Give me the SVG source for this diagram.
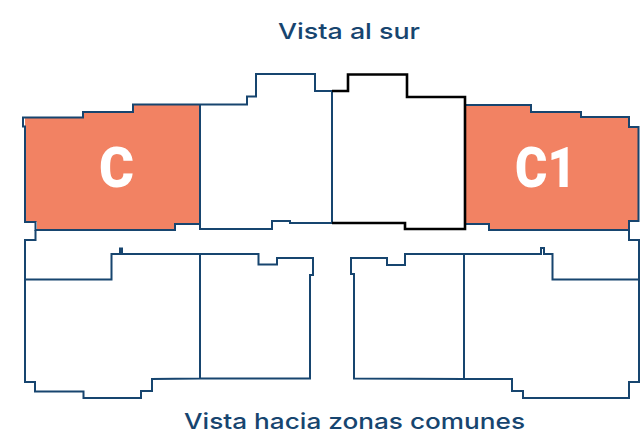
<svg xmlns="http://www.w3.org/2000/svg" width="640" height="435" viewBox="0 0 640 435">
<style>
.o{fill:none;stroke:#17456f;stroke-width:2;stroke-linejoin:miter}
.f{fill:#f28263;stroke:none}
.k{fill:none;stroke:#000;stroke-width:2.6}
.t{font-family:"Inter","Liberation Sans",sans-serif;font-weight:500;fill:#17456f;font-size:22px}
.u{font-family:"Roboto","Liberation Sans",sans-serif;font-weight:900;fill:#fff;font-size:56px}
</style>
<rect width="640" height="435" fill="#fff"/>
<g id="unit-c">
<polygon class="f" points="25,118 83,118 83,112 133,112 133,104.5 200,104.5 200,224 175,224 175,230 37,230 37,222 26,222"/>
<text class="u" x="99" y="187" textLength="35" lengthAdjust="spacingAndGlyphs">C</text>
</g>
<g id="unit-c1">
<polygon class="f" points="465,105 531,105 531,112 581,112 581,117 629,117 629,127 638,127 638,221 629,221 629,230 489,230 489,224 465,224"/>
<text class="u" x="515" y="187" textLength="61" lengthAdjust="spacingAndGlyphs">C1</text>
</g>
<g id="plan-outline">
<path class="o" d="M200,104.5H133V112H83V117.5H23V126.5H25V222H35.5V230H175V224H200M200,104.5V229H272V221H290V223H332M200,104.5H247V96.5H256V74H315V91H332M332,91V223"/>
<path class="o" d="M465,105H531V112H581V117H629V127H638.5V221H629V230H489V224H465"/>
<path class="o" d="M35.5,230V240H25V382H35V391.5H83.5V398H141V391H152V379L200,378.5H310V275H313V258H277V264.5H258.5V254H122V248.5H120V254H111.5V279.5H25M200,254V379"/>
<path class="o" d="M629,230V240H639V382H629V398H523V391H512V379H464L354,378.5V274H351V258H387V265H405V254H541V248H544V254H552.5V279.5H639M464,254V379"/>
</g>
<g id="unit-selected">
<path class="k" d="M332,91H348V74.5H407V97H465V229H405V223H332"/>
</g>
<text class="t" x="278" y="39" textLength="142" lengthAdjust="spacingAndGlyphs">Vista al sur</text>
<text class="t" x="184" y="429" textLength="341" lengthAdjust="spacingAndGlyphs">Vista hacia zonas comunes</text>
</svg>
